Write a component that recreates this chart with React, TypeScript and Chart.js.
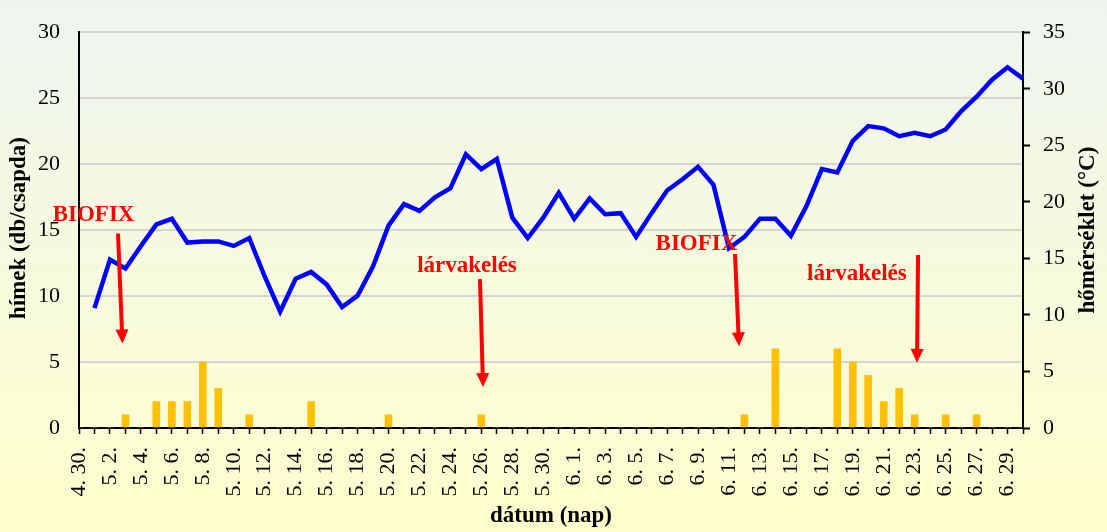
import React, { useEffect, useRef } from 'react';
import { Chart, registerables } from 'chart.js';

Chart.register(...registerables);

const categories = [
  '4. 30.',
  '5. 1.', '5. 2.', '5. 3.', '5. 4.', '5. 5.', '5. 6.', '5. 7.', '5. 8.', '5. 9.', '5. 10.',
  '5. 11.', '5. 12.', '5. 13.', '5. 14.', '5. 15.', '5. 16.', '5. 17.', '5. 18.', '5. 19.', '5. 20.',
  '5. 21.', '5. 22.', '5. 23.', '5. 24.', '5. 25.', '5. 26.', '5. 27.', '5. 28.', '5. 29.', '5. 30.', '5. 31.',
  '6. 1.', '6. 2.', '6. 3.', '6. 4.', '6. 5.', '6. 6.', '6. 7.', '6. 8.', '6. 9.', '6. 10.',
  '6. 11.', '6. 12.', '6. 13.', '6. 14.', '6. 15.', '6. 16.', '6. 17.', '6. 18.', '6. 19.', '6. 20.',
  '6. 21.', '6. 22.', '6. 23.', '6. 24.', '6. 25.', '6. 26.', '6. 27.', '6. 28.', '6. 29.', '6. 30.',
];

// hímek (db/csapda)
const males = [
  0, 0, 0, 1, 0, 2, 2, 2, 5, 3,
  0, 1, 0, 0, 0, 2, 0, 0, 0, 0,
  1, 0, 0, 0, 0, 0, 1, 0, 0, 0,
  0, 0, 0, 0, 0, 0, 0, 0, 0, 0,
  0, 0, 0, 1, 0, 6, 0, 0, 0, 6,
  5, 4, 2, 3, 1, 0, 1, 0, 1, 0,
  0, 0,
];

// hőmérséklet (°C)
const temperature = [
  null,
  10.6, 14.9, 14.1, 16.1, 18.0, 18.5, 16.4, 16.5, 16.5, 16.1,
  16.8, 13.4, 10.3, 13.2, 13.8, 12.7, 10.7, 11.7, 14.3, 17.9,
  19.8, 19.2, 20.4, 21.2, 24.2, 22.9, 23.8, 18.6, 16.8, 18.6,
  20.8, 18.5, 20.3, 18.9, 19.0, 16.9, 19.0, 21.0, 22.0, 23.1,
  21.5, 15.9, 16.9, 18.5, 18.5, 17.0, 19.6, 22.9, 22.6, 25.4,
  26.7, 26.5, 25.8, 26.1, 25.8, 26.4, 28.0, 29.3, 30.8, 31.9,
  30.9,
];

const leftTicks = [0, 5, 10, 15, 20, 25, 30];
const rightTicks = [0, 5, 10, 15, 20, 25, 30, 35];

const noteTexts = [
  { text: 'BIOFIX', x: 0.94, y: 16.14 },
  { text: 'lárvakelés', x: 25.07, y: 12.24 },
  { text: 'BIOFIX', x: 39.9, y: 13.97 },
  { text: 'lárvakelés', x: 50.27, y: 11.65 },
];

const noteArrows = [
  { x1: 2.52, y1: 14.74, x2: 2.81, y2: 6.41 },
  { x1: 25.91, y1: 11.28, x2: 26.11, y2: 3.1 },
  { x1: 42.39, y1: 13.19, x2: 42.65, y2: 6.19 },
  { x1: 54.22, y1: 13.12, x2: 54.15, y2: 4.94 },
];

const FONT = 'Liberation Serif';

const bgPlugin = {
  id: 'bgGradient',
  beforeDraw(chart: any) {
    const { ctx, width, height } = chart;
    const g = ctx.createLinearGradient(0, 0, 0, height);
    g.addColorStop(0, '#eef5ef');
    g.addColorStop(1, '#ffffcc');
    ctx.save();
    ctx.fillStyle = g;
    ctx.fillRect(0, 0, width, height);
    ctx.restore();
  },
};

const decorPlugin = {
  id: 'decor',
  afterDraw(chart: any) {
    const { ctx, chartArea } = chart;
    const xs = chart.scales.x;
    const ys = chart.scales.y;
    ctx.save();
    // axis titles
    ctx.fillStyle = '#000';
    ctx.font = `bold 23px "${FONT}"`;
    ctx.textAlign = 'center';
    ctx.textBaseline = 'middle';
    const midY = (chartArea.top + chartArea.bottom) / 2;
    ctx.save();
    ctx.translate(19, midY - 2);
    ctx.rotate(-Math.PI / 2);
    ctx.fillText('hímek (db/csapda)', 0, 0);
    ctx.restore();
    ctx.save();
    ctx.translate(1088, midY);
    ctx.rotate(-Math.PI / 2);
    ctx.fillText('hőmérséklet (°C)', 0, 0);
    ctx.restore();
    ctx.fillText('dátum (nap)', (chartArea.left + chartArea.right) / 2, 516);

    // annotations
    ctx.fillStyle = '#ff0000';
    ctx.strokeStyle = '#ff0000';
    ctx.font = `bold 23px "${FONT}"`;
    noteTexts.forEach((n) => {
      ctx.fillText(n.text, xs.getPixelForValue(n.x), ys.getPixelForValue(n.y));
    });
    noteArrows.forEach((a) => {
      const x1 = xs.getPixelForValue(a.x1);
      const y1 = ys.getPixelForValue(a.y1);
      const x2 = xs.getPixelForValue(a.x2);
      const y2 = ys.getPixelForValue(a.y2);
      const dx = x2 - x1;
      const dy = y2 - y1;
      const len = Math.hypot(dx, dy);
      const ux = dx / len;
      const uy = dy / len;
      const headLen = 14;
      const headW = 6.5;
      const bx = x2 - ux * headLen;
      const by = y2 - uy * headLen;
      ctx.lineWidth = 4;
      ctx.beginPath();
      ctx.moveTo(x1, y1);
      ctx.lineTo(bx + ux, by + uy);
      ctx.stroke();
      ctx.beginPath();
      ctx.moveTo(x2, y2);
      ctx.lineTo(bx - uy * headW, by + ux * headW);
      ctx.lineTo(bx + uy * headW, by - ux * headW);
      ctx.closePath();
      ctx.fill();
    });
    ctx.restore();
  },
};

export default function App() {
  const canvasRef = useRef<HTMLCanvasElement | null>(null);

  useEffect(() => {
    document.body.style.margin = '0';
    const canvas = canvasRef.current;
    if (!canvas) return;
    const tickFont = { family: FONT, size: 22 };
    const chart = new Chart(canvas, {
      type: 'bar',
      data: {
        labels: categories,
        datasets: [
          {
            type: 'line',
            label: 'hőmérséklet',
            data: temperature,
            yAxisID: 'y1',
            borderColor: '#0000ff',
            borderWidth: 4.5,
            pointRadius: 0,
            tension: 0,
            fill: false,
            spanGaps: false,
            order: 0,
          } as any,
          {
            type: 'bar',
            label: 'hímek',
            data: males,
            yAxisID: 'y',
            backgroundColor: '#ffc000',
            barThickness: 7,
            order: 1,
          } as any,
        ],
      },
      options: {
        animation: false,
        responsive: true,
        maintainAspectRatio: false,
        layout: { padding: { top: 21, left: 0, right: 0, bottom: 0 } },
        plugins: {
          legend: { display: false },
          tooltip: { enabled: false },
          title: { display: false },
        },
        scales: {
          x: {
            type: 'category',
            offset: false,
            grid: {
              display: true,
              offset: false,
              drawOnChartArea: false,
              drawTicks: true,
              tickLength: 6,
              tickColor: '#000',
              tickWidth: 1.5,
            },
            border: { display: true, color: '#000', width: 2 },
            ticks: {
              autoSkip: false,
              minRotation: 90,
              maxRotation: 90,
              padding: 13,
              color: '#000',
              font: tickFont,
              callback: (_v: any, i: number) => (i % 2 === 0 ? categories[i] : ''),
            },
            afterFit: (s: any) => {
              s.height = 104;
            },
          },
          y: {
            position: 'left',
            min: leftTicks[0],
            max: leftTicks[leftTicks.length - 1],
            afterBuildTicks: (s: any) => {
              s.ticks = leftTicks.map((v) => ({ value: v }));
            },
            ticks: { padding: 19, color: '#000', font: tickFont },
            grid: { color: '#d4d4d4', lineWidth: 2, drawTicks: false },
            border: { display: true, color: '#000', width: 2 },
            afterFit: (s: any) => {
              s.width = 79;
            },
          },
          y1: {
            position: 'right',
            min: rightTicks[0],
            max: rightTicks[rightTicks.length - 1],
            afterBuildTicks: (s: any) => {
              s.ticks = rightTicks.map((v) => ({ value: v }));
            },
            ticks: { padding: 13, color: '#000', font: tickFont },
            grid: {
              drawOnChartArea: false,
              drawTicks: true,
              tickLength: 7,
              tickColor: '#000',
              tickWidth: 2,
            },
            border: { display: true, color: '#000', width: 2 },
            afterFit: (s: any) => {
              s.width = 84;
            },
          },
        },
      } as any,
      plugins: [bgPlugin, decorPlugin],
    });
    return () => chart.destroy();
  }, []);

  return (
    <div style={{ width: 1107, height: 532, position: 'relative' }}>
      <canvas ref={canvasRef} />
    </div>
  );
}
